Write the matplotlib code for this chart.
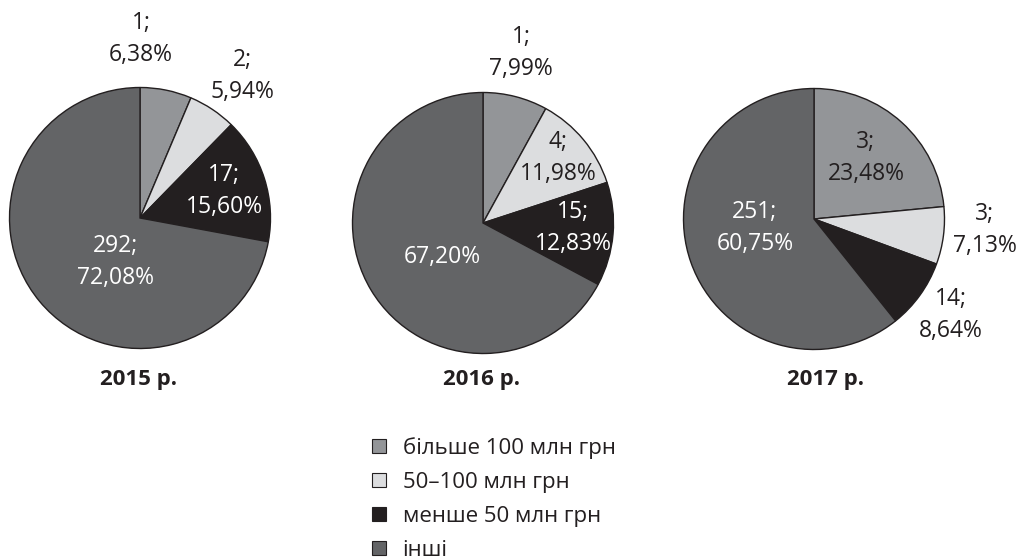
import matplotlib
matplotlib.use("Agg")
import matplotlib.pyplot as plt
from matplotlib.patches import Patch

plt.rcParams['font.family'] = ['Open Sans', 'DejaVu Sans']

# data
years = ['2015 р.', '2016 р.', '2017 р.']
categories = ['більше 100 млн грн', '50–100 млн грн', 'менше 50 млн грн', 'інші']
shares_2015 = [6.38, 5.94, 15.60, 72.08]
shares_2016 = [7.99, 11.98, 12.83, 67.20]
shares_2017 = [23.48, 7.13, 8.64, 60.75]
counts_2015 = ['1', '2', '17', '292']
counts_2016 = ['1', '4', '15', '']
counts_2017 = ['3', '3', '14', '251']

colors = ['#939598', '#dcdddf', '#231f20', '#636466']

W, H = 1018, 560
fig = plt.figure(figsize=(W / 100, H / 100), dpi=100)
ax = fig.add_axes([0, 0, 1, 1])

# pie centres / radius in pixel coords (y down)
centers = [(140, 218), (483, 223), (814, 219)]
radius = 130.5
# label block positions for each slice, pixel coords
label_pos = [
    [(141, 39), (242, 76), (224, 191), (116, 262)],
    [(521, 53), (558, 158), (573, 228), (442, 257)],
    [(866, 158), (985, 230), (951, 315), (755, 228)],
]
label_colors = [
    ['#231f20', '#231f20', 'white', 'white'],
    ['#231f20', '#231f20', 'white', 'white'],
    ['#231f20', '#231f20', '#231f20', 'white'],
]
title_pos = [(139, 380), (482, 380), (826, 380)]

all_shares = [shares_2015, shares_2016, shares_2017]
all_counts = [counts_2015, counts_2016, counts_2017]

for i in range(3):
    cx, cy = centers[i]
    # y axis is inverted, so counterclock=True draws clockwise on screen
    ax.pie(all_shares[i], colors=colors, startangle=-90, counterclock=True,
           center=(cx, cy), radius=radius, frame=True,
           wedgeprops=dict(edgecolor='#231f20', linewidth=1.0))
    for j, (val, cnt) in enumerate(zip(all_shares[i], all_counts[i])):
        pct = f"{val:.2f}%".replace('.', ',')
        txt = f"{cnt};\n{pct}" if cnt else pct
        lx, ly = label_pos[i][j]
        ax.text(lx, ly, txt, ha='center', va='center', fontsize=16.5,
                color=label_colors[i][j], linespacing=1.4)
    tx, ty = title_pos[i]
    ax.text(tx, ty, years[i], ha='center', va='center', fontsize=16,
            fontweight='bold', color='#231f20')

ax.set_xlim(0, W)
ax.set_ylim(H, 0)
ax.set_aspect('auto')
ax.axis('off')

handles = [Patch(facecolor=c, edgecolor='#231f20', linewidth=0.8) for c in colors]
fig.legend(handles, categories, loc='upper left',
           bbox_to_anchor=(361 / W, 1 - 426 / H), frameon=False,
           fontsize=16, handlelength=0.62, handleheight=0.62,
           handletextpad=0.75, labelspacing=0.58, borderpad=0,
           labelcolor='#231f20')

fig.savefig('out.png', dpi=100, facecolor='white')
